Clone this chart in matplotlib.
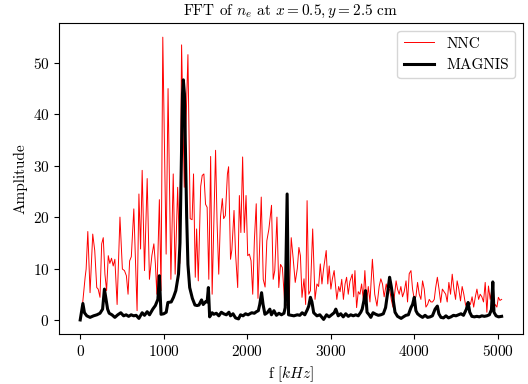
import matplotlib
matplotlib.use("Agg")
import matplotlib.pyplot as plt

plt.rcParams.update({
    "font.family": "serif",
    "font.serif": ["cmr10"],
    "mathtext.fontset": "cm",
    "axes.formatter.use_mathtext": True,
    "font.size": 11,
})

# NNC spectrum (frequency in kHz, amplitude)
nnc_f = [30, 59, 71, 91, 118, 150, 174, 198, 215, 237, 257, 276, 296, 316, 336, 355, 375, 395, 415, 442,
         476, 505, 530, 553, 573, 592, 612, 642, 681, 703, 723, 742, 770, 802, 829, 858, 882, 900, 918, 948,
         968, 989, 1029, 1052, 1086, 1114, 1137, 1167, 1193, 1214, 1246, 1290, 1317, 1340, 1357, 1378, 1394, 1414, 1443, 1461,
         1481, 1501, 1520, 1540, 1562, 1580, 1621, 1639, 1659, 1680, 1702, 1718, 1738, 1763, 1777, 1800, 1816, 1842, 1860, 1886,
         1906, 1924, 1945, 1965, 1986, 2006, 2026, 2046, 2066, 2086, 2108, 2129, 2168, 2192, 2214, 2235, 2259, 2291, 2311, 2330,
         2356, 2378, 2399, 2421, 2447, 2465, 2500, 2527, 2550, 2575, 2600, 2619, 2637, 2656, 2680, 2700, 2717, 2737, 2757, 2784,
         2812, 2835, 2855, 2875, 2895, 2915, 2946, 2965, 2982, 3002, 3020, 3041, 3073, 3095, 3112, 3132, 3152, 3172, 3190, 3210,
         3230, 3258, 3275, 3290, 3310, 3330, 3350, 3370, 3390, 3409, 3430, 3450, 3470, 3499, 3527, 3554, 3580, 3600, 3620, 3640,
         3665, 3685, 3705, 3725, 3745, 3765, 3783, 3800, 3820, 3840, 3860, 3880, 3902, 3920, 3940, 3961, 3980, 4001, 4020, 4040,
         4060, 4080, 4100, 4120, 4140, 4160, 4180, 4200, 4220, 4240, 4257, 4277, 4297, 4317, 4337, 4357, 4377, 4395, 4415, 4435,
         4455, 4475, 4495, 4514, 4534, 4554, 4574, 4594, 4614, 4633, 4653, 4673, 4693, 4712, 4732, 4751, 4771, 4790, 4810, 4830,
         4850, 4870, 4889, 4910, 4930, 4950, 4970, 4990, 5008, 5027, 5047]
nnc_amp = [3.4, 8.3, 9.9, 17.2, 5.3, 16.7, 13.5, 6.3, 6.0, 4.4, 14.8, 16.0, 8.9, 5.7, 12.5, 11.0, 12.0, 10.5, 11.8, 3.0,
           20.0, 9.9, 9.6, 8.6, 5.0, 11.5, 12.3, 21.6, 1.8, 24.5, 13.8, 29.1, 9.6, 27.5, 7.9, 12.5, 14.8, 11.0, 5.0, 23.4,
           5.7, 55.0, 12.8, 45.0, 7.9, 28.4, 8.9, 25.8, 11.0, 53.5, 25.8, 51.6, 19.7, 19.5, 28.4, 8.3, 17.7, 7.6, 26.0, 28.1,
           28.4, 22.5, 21.9, 7.9, 31.8, 5.0, 33.0, 19.0, 8.9, 20.0, 23.6, 19.7, 20.3, 28.4, 29.8, 11.8, 13.6, 21.3, 13.0, 6.3,
           24.2, 17.0, 31.7, 17.0, 24.2, 12.5, 12.8, 11.5, 5.0, 15.6, 22.6, 4.2, 23.9, 7.9, 6.4, 15.4, 17.6, 22.3, 7.9, 9.6,
           20.0, 6.3, 10.8, 10.2, 3.8, 3.0, 2.5, 16.0, 12.0, 7.3, 10.0, 14.1, 12.5, 4.4, 8.0, 3.0, 23.2, 5.0, 5.7, 17.7,
           4.0, 7.0, 6.5, 10.9, 7.0, 10.0, 13.5, 7.0, 10.5, 6.0, 8.0, 9.6, 4.0, 6.5, 5.5, 7.9, 4.0, 7.0, 8.3, 5.0,
           7.5, 8.9, 4.5, 9.6, 2.4, 5.5, 5.0, 7.0, 4.0, 9.6, 3.5, 6.5, 3.5, 11.8, 5.0, 2.7, 6.5, 8.0, 7.0, 4.5,
           7.0, 5.5, 6.0, 4.0, 2.5, 5.0, 7.6, 6.0, 5.0, 6.5, 4.5, 5.5, 7.6, 3.5, 9.0, 9.6, 6.0, 4.0, 4.5, 7.3,
           5.0, 4.0, 7.6, 6.0, 2.5, 3.0, 4.0, 3.5, 3.5, 4.0, 6.3, 8.3, 6.0, 3.4, 6.0, 5.5, 5.0, 3.5, 7.3, 5.0,
           8.9, 6.0, 4.0, 7.6, 6.0, 3.7, 6.5, 5.0, 3.0, 2.4, 3.5, 3.0, 4.5, 2.5, 4.5, 6.0, 4.0, 5.0, 4.5, 3.5,
           7.3, 1.5, 6.6, 4.0, 6.0, 2.0, 3.0, 2.5, 4.4, 3.8, 4.0]

# MAGNIS spectrum
mag_f = [0, 32, 51, 79, 118, 160, 200, 237, 268, 290, 305, 328, 347, 380, 415, 450, 486, 520, 550, 580,
         610, 640, 670, 703, 742, 770, 802, 830, 869, 900, 930, 948, 968, 1000, 1030, 1050, 1090, 1117, 1145, 1177,
         1195, 1210, 1225, 1235, 1248, 1262, 1275, 1290, 1311, 1343, 1374, 1400, 1422, 1453, 1473, 1505, 1520, 1535, 1550, 1580,
         1600, 1630, 1660, 1690, 1718, 1750, 1781, 1800, 1830, 1860, 1896, 1920, 1950, 1980, 2010, 2054, 2085, 2110, 2133, 2150,
         2172, 2190, 2212, 2240, 2271, 2290, 2320, 2350, 2380, 2410, 2440, 2455, 2478, 2495, 2530, 2559, 2600, 2630, 2658, 2690,
         2720, 2737, 2757, 2775, 2796, 2835, 2870, 2915, 2950, 2980, 3010, 3041, 3061, 3090, 3120, 3150, 3180, 3210, 3240, 3270,
         3300, 3330, 3360, 3377, 3397, 3416, 3435, 3460, 3480, 3507, 3540, 3570, 3600, 3630, 3657, 3685, 3705, 3725, 3744, 3770,
         3800, 3843, 3870, 3900, 3930, 3961, 3980, 4001, 4020, 4040, 4070, 4100, 4130, 4160, 4190, 4218, 4250, 4277, 4295, 4320,
         4350, 4380, 4410, 4440, 4470, 4500, 4530, 4560, 4590, 4625, 4645, 4665, 4690, 4720, 4750, 4780, 4810, 4840, 4870, 4900,
         4925, 4941, 4955, 4980, 5010, 5047]
mag_amp = [0.0, 3.2, 1.4, 0.8, 0.5, 0.8, 1.0, 1.3, 2.1, 6.0, 4.5, 2.1, 1.3, 1.0, 0.5, 1.0, 1.4, 0.8, 1.0, 0.7,
           1.0, 0.8, 0.9, 0.3, 1.4, 0.9, 1.6, 1.0, 2.1, 2.8, 4.0, 8.6, 1.1, 1.2, 1.5, 3.4, 3.5, 4.4, 5.7, 8.9,
           15.0, 30.0, 44.0, 46.7, 44.0, 32.0, 20.0, 10.8, 6.3, 4.2, 2.9, 2.8, 2.9, 3.9, 3.0, 3.6, 3.5, 6.3, 0.6, 1.4,
           1.1, 1.3, 0.8, 1.5, 1.2, 1.0, 1.5, 0.8, 1.2, 0.4, 0.2, 1.0, 0.8, 1.2, 1.0, 1.4, 1.3, 1.6, 1.8, 3.0,
           5.3, 3.0, 1.1, 1.4, 2.1, 1.0, 1.8, 0.9, 1.3, 1.0, 1.3, 2.4, 24.5, 1.0, 0.9, 0.8, 1.0, 0.9, 1.4, 1.0,
           2.0, 2.7, 4.4, 3.5, 1.4, 0.8, 1.0, 0.1, 1.0, 0.6, 1.0, 1.4, 2.1, 0.8, 1.2, 0.6, 1.2, 0.7, 1.0, 0.8,
           1.0, 0.8, 1.5, 2.1, 3.7, 5.7, 1.5, 1.0, 0.5, 1.4, 1.1, 0.9, 1.0, 1.2, 2.4, 5.7, 8.3, 6.5, 4.4, 1.5,
           0.7, 0.3, 0.6, 0.9, 1.0, 2.4, 3.0, 4.4, 1.8, 1.2, 0.8, 0.5, 0.9, 0.5, 0.6, 0.8, 2.1, 2.7, 1.2, 0.5,
           0.4, 0.8, 0.4, 0.6, 0.9, 0.8, 1.0, 1.2, 0.9, 2.1, 3.4, 1.5, 0.7, 0.6, 0.7, 0.6, 0.8, 0.7, 0.8, 1.0,
           2.0, 7.4, 1.5, 0.8, 0.6, 0.7]

fig, ax = plt.subplots(figsize=(5.28, 3.84), dpi=100)
plt.subplots_adjust(left=0.112, right=0.99, bottom=0.13, top=0.94)

ax.plot(nnc_f, nnc_amp, color='red', linewidth=0.7, label='NNC')
ax.plot(mag_f, mag_amp, color='black', linewidth=2.2, label='MAGNIS')

ax.set_title(r"FFT of $n_e$ at $x = 0.5, y = 2.5$ cm", fontsize=11)
ax.set_xlabel(r"f [$kHz$]")
ax.set_ylabel("Amplitude")
ax.legend(loc='upper right')

plt.savefig("out.png", dpi=100)
